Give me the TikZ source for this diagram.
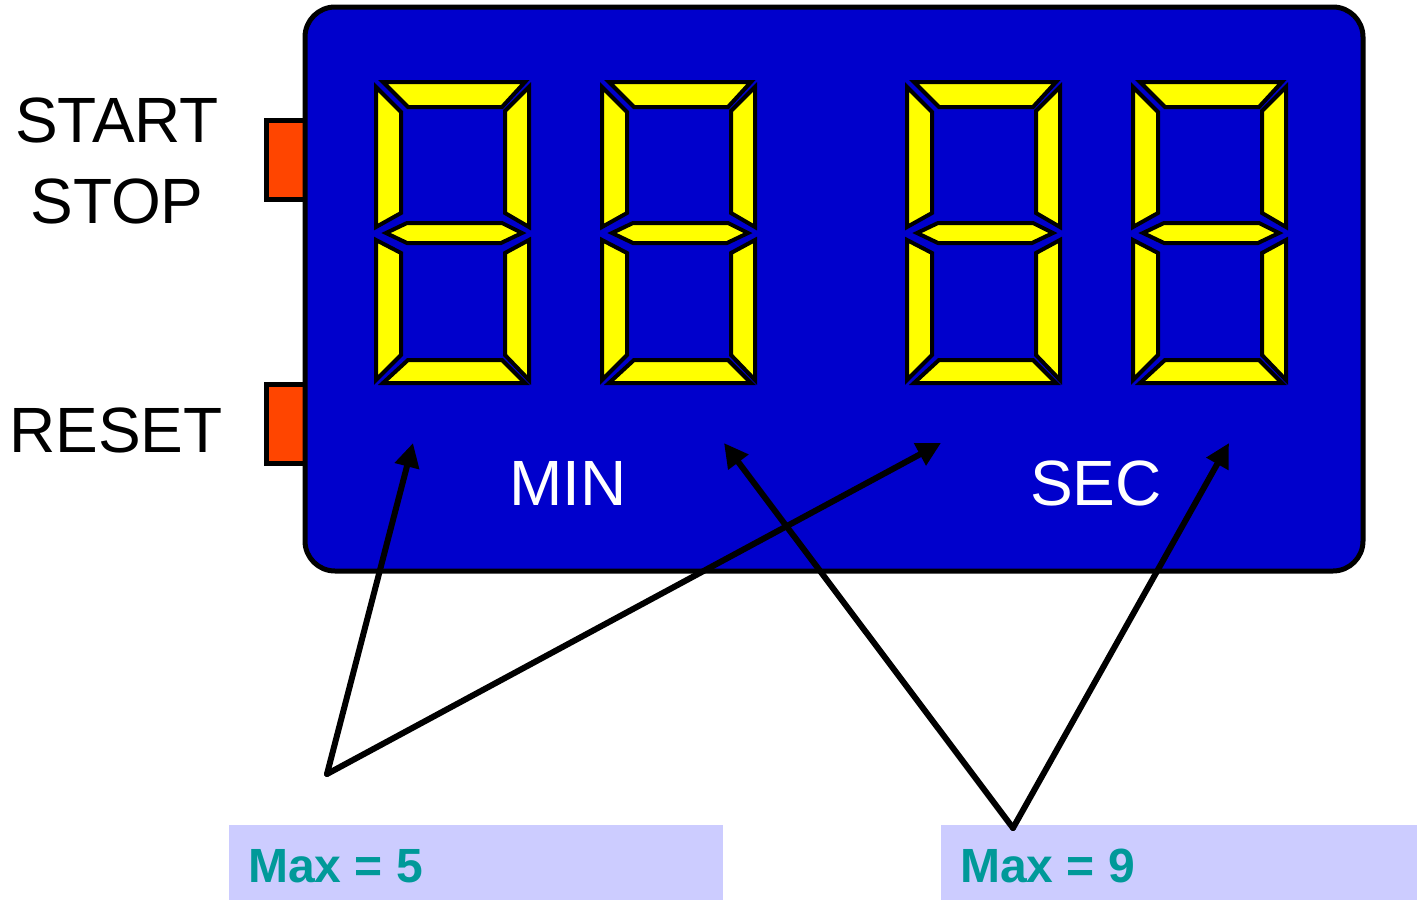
\documentclass[tikz,border=0pt]{standalone}
\usepackage{fontspec}
\setmainfont{Liberation Sans}
\usetikzlibrary{arrows.meta}
\definecolor{panelblue}{HTML}{0000CC}
\definecolor{btnorange}{HTML}{FF4500}
\definecolor{segyellow}{HTML}{FFFF00}
\definecolor{maxteal}{HTML}{009999}
\definecolor{maxbg}{HTML}{CCCCFF}

% one seven-segment digit, upper-left corner at the given point
\newcommand\sevenseg[1]{%
  \begin{scope}[shift={#1}]
    \draw[seg] (7,0) -- (149,0) -- (126,25) -- (32,25) -- cycle;
    \draw[seg] (0,5) -- (25,30) -- (25,131) -- (0,145) -- cycle;
    \draw[seg] (153,5) -- (153,145) -- (129,131) -- (129,29) -- cycle;
    \draw[seg] (10,151) -- (31,141) -- (126,141) -- (146,151) -- (125,161) -- (31,161) -- cycle;
    \draw[seg] (0,158) -- (25,171) -- (25,273) -- (0,298) -- cycle;
    \draw[seg] (153,158) -- (153,298) -- (129,273) -- (129,171) -- cycle;
    \draw[seg] (7,301) -- (149,301) -- (126,278) -- (32,278) -- cycle;
  \end{scope}}

\begin{document}
\begin{tikzpicture}[x=1pt,y=-1pt,
  seg/.style={fill=segyellow,draw=black,line width=4pt,line join=miter},
  button/.style={fill=btnorange,draw=black,line width=5pt,minimum width=44pt,minimum height=79pt,inner sep=0pt},
  panel/.style={fill=panelblue,draw=black,line width=5pt,rounded corners=30pt,minimum width=1058pt,minimum height=564pt,inner sep=0pt},
  sidelabel/.style={font=\fontsize{64}{64}\selectfont,inner sep=0pt},
  unitlabel/.style={font=\fontsize{64}{64}\selectfont,text=white,inner sep=0pt},
  maxbox/.style={fill=maxbg,draw=none,minimum height=75pt,inner sep=0pt,anchor=north west},
  maxtext/.style={font=\bfseries\fontsize{48}{48}\selectfont,text=maxteal,inner sep=0pt,anchor=base west},
  pointer/.style={line width=6pt,-{Triangle[length=24pt,width=24pt]}}]
\useasboundingbox (0,0) rectangle (1417,900);

% side buttons, partly hidden behind the panel
\node[button] (startbtn) at (288,159.5) {};
\node[button] (resetbtn) at (288,423.5) {};

% display panel
\node[panel] (panel) at (834,289) {};

% button labels
\node[sidelabel] (start) at (117,120) {START};
\node[sidelabel] (stop) at (117,201) {STOP};
\node[sidelabel] (reset) at (116,430) {RESET};

% digits
\sevenseg{(376,82)}
\sevenseg{(602,82)}
\sevenseg{(907,82)}
\sevenseg{(1133,82)}

% unit labels
\node[unitlabel] (min) at (568,483) {MIN};
\node[unitlabel] (sec) at (1096,483) {SEC};

% limit boxes
\node[maxbox,minimum width=494pt] (box5) at (229,825) {};
\node[maxbox,minimum width=476pt] (box9) at (941,825) {};
\node[maxtext] (max5) at (248,882) {Max = 5};
\node[maxtext] (max9) at (960,882) {Max = 9};

% pointers from each limit to its digits
\coordinate (from5) at (327,774);
\coordinate (from9) at (1013,828);
\coordinate (mintens) at (413,443);
\coordinate (sectens) at (941,443);
\coordinate (minones) at (724,443);
\coordinate (secones) at (1229,443);
\draw[pointer,line cap=round] (from5) -- (mintens);
\draw[pointer,line cap=round] (from5) -- (sectens);
\draw[pointer,line cap=round] (from9) -- (minones);
\draw[pointer,line cap=round] (from9) -- (secones);
\end{tikzpicture}
\end{document}
